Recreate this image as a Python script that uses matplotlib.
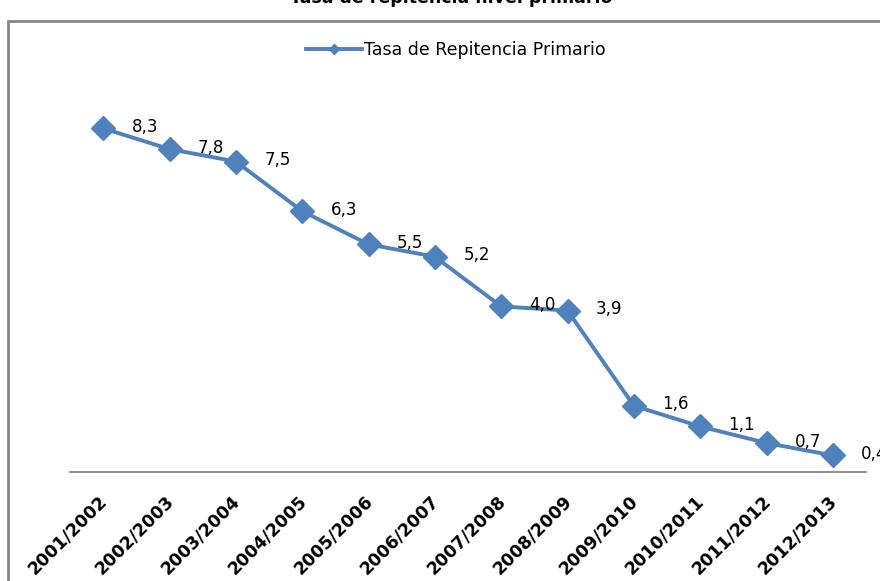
import matplotlib
matplotlib.use("Agg")
import matplotlib.pyplot as plt
from matplotlib.patches import Rectangle
from matplotlib.transforms import ScaledTranslation

# data
periodos = ["2001/2002", "2002/2003", "2003/2004", "2004/2005", "2005/2006",
            "2006/2007", "2007/2008", "2008/2009", "2009/2010", "2010/2011",
            "2011/2012", "2012/2013"]
tasa = [8.3, 7.8, 7.5, 6.3, 5.5, 5.2, 4.0, 3.9, 1.6, 1.1, 0.7, 0.4]
serie = "Tasa de Repitencia Primario"
titulo = "Tasa de repitencia nivel primario"

azul = "#4F81BD"
gris = "#868686"

plt.rcParams["font.family"] = ["DejaVu Sans"]

fig = plt.figure(figsize=(8.8, 5.81), dpi=100)
W, H = 880, 581
ax = fig.add_axes([70 / W, 1 - 472 / H, 796 / W, 372.6 / H])

x = list(range(len(periodos)))
ax.plot(x, tasa, color=azul, lw=2.8, marker="D", ms=12,
        markeredgecolor=azul, label=serie, zorder=3)

for xi, v in zip(x, tasa):
    ax.annotate(f"{v:.1f}".replace(".", ","), (xi, v), xytext=(30, 1),
                textcoords="offset points", ha="center", va="center",
                fontsize=12, color="black", annotation_clip=False, zorder=4)

ax.set_xlim(-0.5, len(periodos) - 0.5)
ax.set_ylim(0, 9)
ax.set_yticks([])
for s in ["top", "left", "right"]:
    ax.spines[s].set_visible(False)
ax.spines["bottom"].set_color(gris)
ax.spines["bottom"].set_linewidth(1.3)

ax.set_xticks(x)
ax.set_xticklabels(periodos, rotation=45, ha="right", va="center",
                   rotation_mode="anchor", fontsize=12.5, fontweight="bold")
ax.tick_params(axis="x", length=0, pad=19)
off = ScaledTranslation(1 / 72, 0, fig.dpi_scale_trans)
for lbl in ax.get_xticklabels():
    lbl.set_transform(lbl.get_transform() + off)

ax.legend(loc="center", bbox_to_anchor=(456 / W, 1 - 50 / H),
          bbox_transform=fig.transFigure, frameon=False, fontsize=12.5,
          handlelength=3.2, markerscale=0.45, handletextpad=0.15)

# chart border and cropped title
fig.patches.append(Rectangle((8 / W, -0.1), 1.2, 1 - 21 / H + 0.1,
                             transform=fig.transFigure, fill=False,
                             edgecolor=gris, lw=2, zorder=0))
fig.text(451 / W, 1 - 3 / H, titulo, ha="center", va="baseline",
         fontsize=12.5, fontweight="bold")

fig.savefig("out.png", dpi=100)
